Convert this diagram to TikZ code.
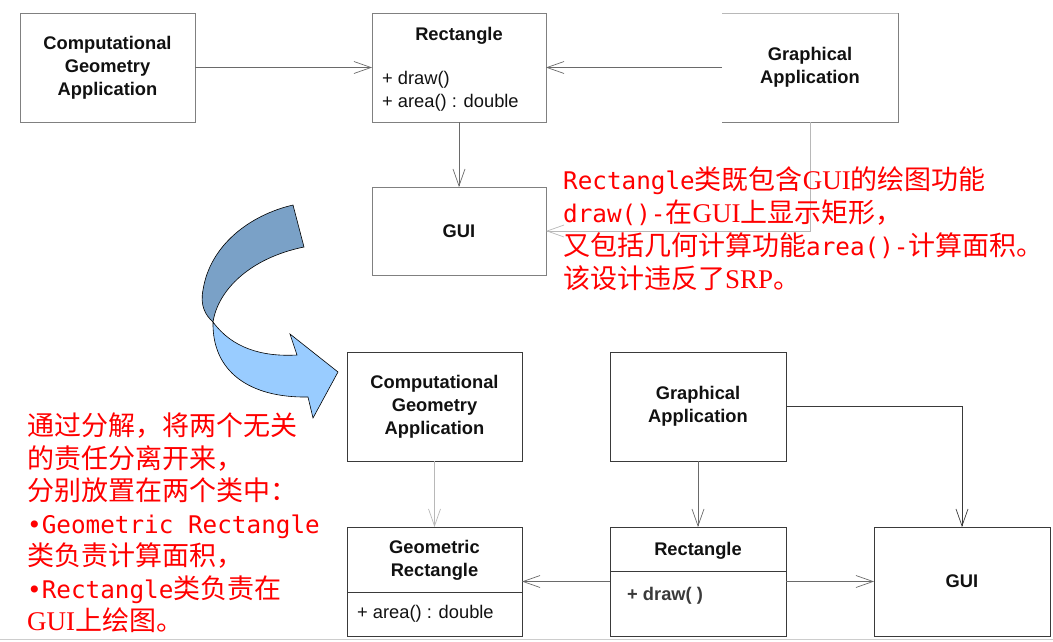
\documentclass[tikz,border=0pt]{standalone}
\usepackage{fontspec}
\setmainfont{Liberation Sans}
\newfontfamily\cjk{Noto Sans CJK SC}
\newfontfamily\monof[Scale=0.9]{DejaVu Sans Mono}
\newfontfamily\serf{Liberation Serif}
\usetikzlibrary{arrows.meta,calc}
\definecolor{boxgray}{HTML}{808080}
\definecolor{boxdark}{HTML}{3A3A3A}
\definecolor{linegray}{HTML}{6A6A6A}
\definecolor{lightline}{HTML}{B8B8B8}
\definecolor{txt}{HTML}{111111}
\definecolor{darkband}{HTML}{7AA1C7}
\definecolor{lightband}{HTML}{99CCFF}
\newcommand\mymo[1]{{\monof #1}}
\newcommand\myse[1]{{\serf #1}}
\tikzset{
  umlbox/.style={draw=boxgray, line width=0.8pt, rectangle, inner sep=0pt, outer sep=0pt,
    anchor=north west, align=center, text=txt, font=\fontsize{18.3}{23}\selectfont\bfseries},
  umlboxd/.style={umlbox, draw=boxdark},
  boldtxt/.style={inner sep=0pt, text=txt, align=center, font=\fontsize{18.3}{23}\selectfont\bfseries},
  regtxt/.style={inner sep=0pt, text=txt, align=left, anchor=west, font=\fontsize{18.3}{23}\selectfont},
  conn/.style={draw=linegray, line width=0.7pt, -{Straight Barb[length=17pt,width=12pt]}},
  redtxt/.style={inner sep=0pt, anchor=north west, align=left, text=red, font=\cjk\fontsize{27}{33}\selectfont},
}
\begin{document}
\begin{tikzpicture}[x=1pt,y=-1pt]
\useasboundingbox (0,0) rectangle (1053,641);
% ---------- top diagram ----------
\node[umlbox, minimum width=175pt, minimum height=109pt] (cga) at (20,13) {Computational\\Geometry\\Application};
\node[umlbox, minimum width=174pt, minimum height=109pt] (rect) at (372,13) {};
\node[boldtxt] (rectT) at (459,35.5) {Rectangle};
\node[regtxt] (rectM) at (382,91.5) {+ draw()\\+ area() : double};
\node[umlbox, draw=none, minimum width=176pt, minimum height=109pt] (gapp) at (722,13) {Graphical\\Application};
\draw[lightline, line width=0.8pt] (gapp.north west) -- (gapp.north east);
\draw[boxgray, line width=0.8pt] (gapp.north east) -- (gapp.south east) -- (gapp.south west);
\node[umlbox, minimum width=174pt, minimum height=88pt] (gui) at (372,187) {GUI};
\draw[conn] (cga) -- (rect);
\draw[conn] (gapp) -- (rect);
\draw[conn] (rect) -- (gui);
\draw[conn, draw=lightline] (gapp.south) |- (gui.east);
% ---------- explanation ----------
\node[redtxt] (note1) at (563,166) {\mymo{Rectangle}类既包含\myse{GUI}的绘图功能\\
\mymo{draw()-}在\myse{GUI}上显示矩形，\\
又包括几何计算功能\mymo{area()-}计算面积。\\
该设计违反了\myse{SRP}。};
% ---------- curved arrow ----------
\path[fill=darkband, draw=black, line width=0.6pt]
  (293,205) .. controls (250,215) and (210,245) .. (203,290)
  .. controls (200,305) and (205,315) .. (213,322)
  .. controls (218,290) and (250,258) .. (304,247) -- cycle;
\path[fill=lightband, draw=black, line width=0.6pt]
  (213,322) .. controls (232,348) and (262,357) .. (297,355)
  -- (290,334) -- (338,372) -- (313,418) -- (308,397)
  .. controls (250,398) and (212,372) .. (213,322) -- cycle;
% ---------- decomposition note ----------
\node[redtxt, font=\cjk\fontsize{27}{32.5}\selectfont] (note2) at (27,413) {通过分解，将两个无关\\
的责任分离开来，\\
分别放置在两个类中：\\
\mymo{•Geometric Rectangle}\\
类负责计算面积，\\
\mymo{•Rectangle}类负责在\\
\myse{GUI}上绘图。};
% ---------- bottom diagram ----------
\node[umlboxd, minimum width=175pt, minimum height=109pt] (cga2) at (347,352) {Computational\\Geometry\\Application};
\node[umlboxd, minimum width=176pt, minimum height=109pt] (gapp2) at (610,352) {Graphical\\Application};
\node[umlboxd, minimum width=175pt, minimum height=109pt] (geo) at (347,527) {};
\draw[boxdark, line width=0.8pt] (geo.north west) ++(0,65) -- ++(175,0);
\node[boldtxt] (geoT) at (434.5,560) {Geometric\\Rectangle};
\node[regtxt] (geoM) at (357,614) {+ area() : double};
\node[umlboxd, minimum width=176pt, minimum height=109pt] (rect2) at (610,527) {};
\draw[boxdark, line width=0.8pt] (rect2.north west) ++(0,44) -- ++(176,0);
\node[boldtxt] (rect2T) at (698,550.5) {Rectangle};
\node[regtxt, font=\fontsize{18.3}{23}\selectfont\bfseries, text=boxdark] (rect2M) at (627,595.5) {+ draw( )};
\node[umlboxd, minimum width=176pt, minimum height=109pt] (gui2) at (874,527) {GUI};
\draw[conn, draw=lightline] (cga2) -- (geo);
\draw[conn] (gapp2) -- (rect2);
\draw[conn] (rect2) -- (geo);
\draw[conn] (rect2) -- (gui2);
\draw[conn, draw=boxdark] (gapp2.east) -| (gui2.north);
\draw[lightline!70, line width=1pt] (0,639) -- (1053,639);
\end{tikzpicture}
\end{document}
